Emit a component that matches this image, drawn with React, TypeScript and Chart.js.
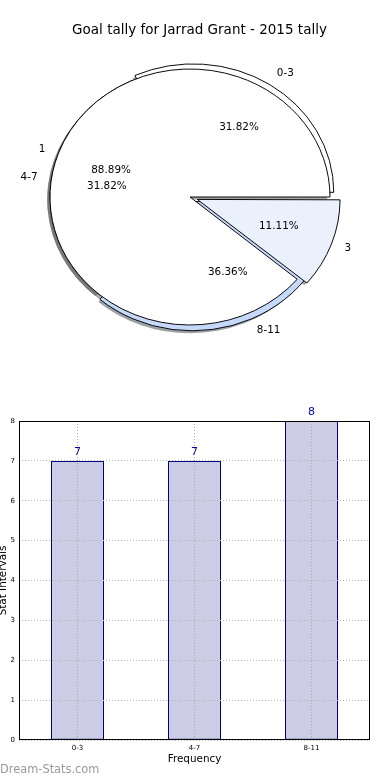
import React, { useEffect, useRef } from 'react';
import { Chart, registerables } from 'chart.js';

Chart.register(...registerables);

// ---------- data ----------
const chartTitle = 'Goal tally for Jarrad Grant - 2015 tally';

const rangeLabels = ['0-3', '4-7', '8-11'];
const rangeCounts = [7, 7, 8];
const rangeColors = ['#ffffff', '#ffffff', '#c6d9fb'];
const rangeExplode = [24, 0, 22];

const goalLabels = ['1', '3'];
const goalCounts = [8, 1];
const goalColors = ['#ffffff', '#eaf0fc'];
const goalExplode = [0, 31];

const barCategories = ['0-3', '4-7', '8-11'];
const barValues = [7, 7, 8];
const yMin = 0;
const yMax = 8;
const yStep = 1;
const xAxisTitle = 'Frequency';
const yAxisTitle = 'Stat Intervals';
const watermark = 'Dream-Stats.com';

// ---------- style ----------
const FONT = '"DejaVu Sans", "Liberation Sans", sans-serif';
const ASPECT = 128 / 140;
const SHADOW = 0.02;

const rev = <T,>(a: T[]) => a.slice().reverse();

function shadowColor(c: string) {
  const n = parseInt(c.slice(1), 16);
  const r = Math.round(((n >> 16) & 255) * 0.3);
  const g = Math.round(((n >> 8) & 255) * 0.3);
  const b = Math.round((n & 255) * 0.3);
  return `rgba(${r},${g},${b},0.5)`;
}

function wedgeShift(el: any) {
  const off = ((el.options && el.options.offset) || 0) / 4;
  const half = (el.startAngle + el.endAngle) / 2;
  const fix = 1 - Math.sin(Math.min(Math.PI, el.circumference || 0));
  const d = off + off * fix;
  return { dx: Math.cos(half) * d, dy: Math.sin(half) * d, half };
}

function center(chart: any) {
  const a = chart.chartArea;
  return {
    cx: (a.left + a.right) / 2,
    cy: (a.top + a.bottom) / 2,
    r: Math.min(a.right - a.left, a.bottom - a.top) / 2,
  };
}

const piePlugin = {
  id: 'mplPie',
  afterDatasetsUpdate(chart: any) {
    const { cx, cy, r } = center(chart);
    chart.data.datasets.forEach((_ds: any, i: number) => {
      chart.getDatasetMeta(i).data.forEach((el: any) => {
        el.x = cx;
        el.y = cy;
        el.innerRadius = 0;
        el.outerRadius = r;
      });
    });
  },
  beforeDatasetsDraw(chart: any) {
    const ctx = chart.ctx;
    const { cx, cy } = center(chart);
    ctx.save();
    ctx.translate(cx, cy);
    ctx.scale(1, ASPECT);
    ctx.translate(-cx, -cy);
    chart.data.datasets.forEach((ds: any, i: number) => {
      chart.getDatasetMeta(i).data.forEach((el: any, j: number) => {
        const { dx, dy } = wedgeShift(el);
        const ox = el.x + dx - SHADOW * el.outerRadius;
        const oy = el.y + dy + SHADOW * el.outerRadius;
        ctx.beginPath();
        ctx.moveTo(ox, oy);
        ctx.arc(ox, oy, el.outerRadius, el.startAngle, el.endAngle);
        ctx.closePath();
        ctx.fillStyle = shadowColor(ds.backgroundColor[j]);
        ctx.fill();
      });
    });
  },
  afterDatasetsDraw(chart: any) {
    chart.ctx.restore();
  },
  afterDraw(chart: any) {
    const ctx = chart.ctx;
    const { cy } = center(chart);
    ctx.save();
    ctx.fillStyle = '#000';
    ctx.font = `10.4px ${FONT}`;
    ctx.textBaseline = 'middle';
    chart.data.datasets.forEach((ds: any, i: number) => {
      const vals: number[] = ds.data;
      const total = vals.reduce((s, v) => s + v, 0);
      chart.getDatasetMeta(i).data.forEach((el: any, j: number) => {
        const { dx, dy, half } = wedgeShift(el);
        const R = el.outerRadius;
        const px = el.x + dx;
        const py = el.y + dy;
        const lx = px + 1.1 * R * Math.cos(half);
        const ly = cy + (py + 1.1 * R * Math.sin(half) - cy) * ASPECT;
        ctx.textAlign = Math.cos(half) > 0 ? 'left' : 'right';
        ctx.fillText(ds.sliceLabels[j], lx, ly);
        const tx = px + 0.6 * R * Math.cos(half);
        const ty = cy + (py + 0.6 * R * Math.sin(half) - cy) * ASPECT;
        ctx.textAlign = 'center';
        ctx.fillText(((vals[j] / total) * 100).toFixed(2) + '%', tx, ty);
      });
    });
    ctx.font = `13.5px ${FONT}`;
    ctx.textAlign = 'center';
    ctx.fillText(chartTitle, 199.5, 30);
    ctx.restore();
  },
};

const barPlugin = {
  id: 'mplBar',
  afterDatasetsDraw(chart: any) {
    const ctx = chart.ctx;
    const a = chart.chartArea;
    ctx.save();
    ctx.fillStyle = '#0000a0';
    ctx.font = `11px ${FONT}`;
    ctx.textAlign = 'center';
    ctx.textBaseline = 'middle';
    chart.getDatasetMeta(0).data.forEach((el: any, i: number) => {
      ctx.fillText(String(barValues[i]), el.x, el.y - 9);
    });
    ctx.restore();
  },
  afterDraw(chart: any) {
    const ctx = chart.ctx;
    const a = chart.chartArea;
    ctx.save();
    ctx.strokeStyle = '#000';
    ctx.lineWidth = 1;
    ctx.strokeRect(a.left + 0.5, a.top + 0.5, a.right - a.left - 1, a.bottom - a.top - 1);
    ctx.fillStyle = '#999999';
    ctx.font = `11.4px ${FONT}`;
    ctx.textAlign = 'left';
    ctx.textBaseline = 'middle';
    ctx.fillText(watermark, 0, chart.height - 10);
    ctx.restore();
  },
};

export default function App() {
  const pieRef = useRef<HTMLCanvasElement>(null);
  const barRef = useRef<HTMLCanvasElement>(null);

  useEffect(() => {
    const pie = new Chart(pieRef.current as HTMLCanvasElement, {
      type: 'pie',
      data: {
        labels: rev(rangeLabels),
        datasets: [
          {
            data: rev(rangeCounts),
            backgroundColor: rev(rangeColors),
            borderColor: '#000',
            borderWidth: 1,
            offset: rev(rangeExplode),
            clip: false,
            order: 2,
            sliceLabels: rev(rangeLabels),
          } as any,
          {
            data: rev(goalCounts),
            backgroundColor: rev(goalColors),
            borderColor: '#000',
            borderWidth: 1,
            offset: rev(goalExplode),
            clip: false,
            order: 1,
            sliceLabels: rev(goalLabels),
          } as any,
        ],
      },
      options: {
        responsive: false,
        animation: false,
        devicePixelRatio: 1,
        events: [],
        rotation: 90,
        layout: { padding: { left: 50, top: 57, right: 60, bottom: 53 } },
        plugins: { legend: { display: false }, tooltip: { enabled: false } },
      } as any,
      plugins: [piePlugin],
    });

    const bar = new Chart(barRef.current as HTMLCanvasElement, {
      type: 'bar',
      data: {
        labels: barCategories,
        datasets: [
          {
            data: barValues,
            backgroundColor: '#cccce5',
            borderColor: '#000080',
            borderWidth: 1,
            borderSkipped: false,
            barPercentage: 53 / 117,
            categoryPercentage: 1,
          },
        ],
      },
      options: {
        responsive: false,
        animation: false,
        devicePixelRatio: 1,
        events: [],
        layout: { padding: { left: 0, top: 31, right: 20, bottom: 0 } },
        plugins: { legend: { display: false }, tooltip: { enabled: false } },
        scales: {
          x: {
            afterFit: (s: any) => { s.height = 40; },
            grid: { z: 1, offset: false, color: '#a8a8a8', lineWidth: 1, drawTicks: false },
            border: { display: false, dash: [1, 2] },
            ticks: { color: '#000', font: { family: FONT, size: 7 }, padding: 4, maxRotation: 0 },
            title: {
              display: true,
              text: xAxisTitle,
              color: '#000',
              font: { family: FONT, size: 10.4, lineHeight: 1.2 },
              padding: { top: 0, bottom: 14 },
            },
          },
          y: {
            min: yMin,
            max: yMax,
            afterFit: (s: any) => { s.width = 19; },
            grid: { z: 1, color: '#b4b4b4', lineWidth: 1, drawTicks: false },
            border: { display: false, dash: [1, 2] },
            ticks: { stepSize: yStep, color: '#000', font: { family: FONT, size: 7 }, padding: 4 },
            title: {
              display: true,
              text: yAxisTitle,
              color: '#000',
              font: { family: FONT, size: 10.4, lineHeight: 0.7 },
              padding: { top: 0, bottom: 0 },
            },
          },
        },
      } as any,
      plugins: [barPlugin],
    });

    return () => {
      pie.destroy();
      bar.destroy();
    };
  }, []);

  return (
    <div style={{ position: 'absolute', left: 0, top: 0, width: 390, height: 780, background: '#fff' }}>
      <canvas ref={pieRef} width={390} height={390} style={{ display: 'block', width: 390, height: 390 }} />
      <canvas ref={barRef} width={390} height={390} style={{ display: 'block', width: 390, height: 390 }} />
    </div>
  );
}
